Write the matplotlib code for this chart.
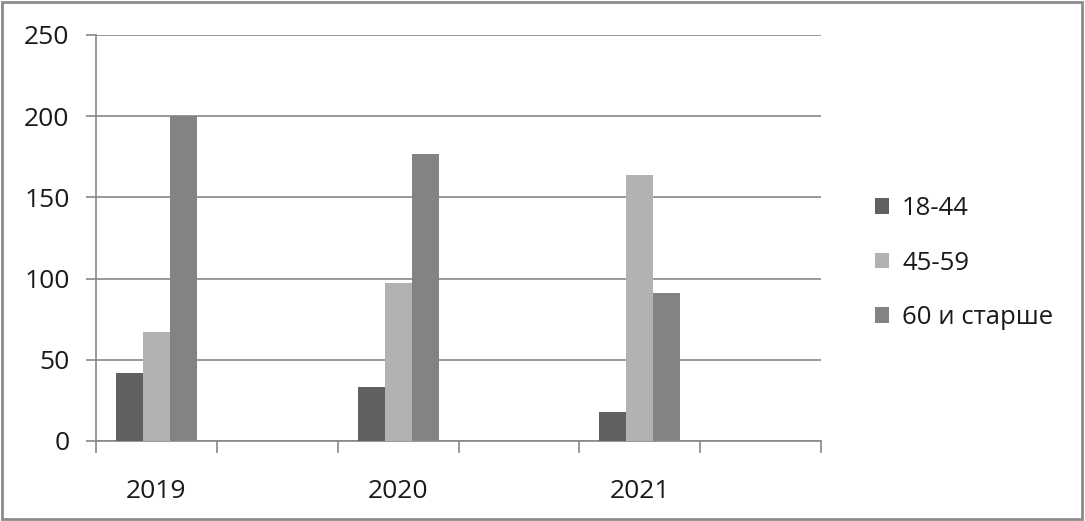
import numpy as np
import matplotlib
matplotlib.use("Agg")
import matplotlib.pyplot as plt
from matplotlib.patches import Rectangle

# data
categories = ["2019", "", "2020", "", "2021", ""]
ages_18_44 = [42, 0, 33, 0, 18, 0]
ages_45_59 = [67, 0, 97, 0, 164, 0]
ages_60_up = [200, 0, 177, 0, 91, 0]
series_names = ["18-44", "45-59", "60 и старше"]
colors = ["#606060", "#b2b2b2", "#838383"]

plt.rcParams['font.family'] = ['Open Sans', 'DejaVu Sans']

fig = plt.figure(figsize=(10.85, 5.21), dpi=100)
ax = fig.add_axes([96 / 1085, 80 / 521, (821 - 96) / 1085, (441 - 35) / 521])

x = np.arange(len(categories))
w = 0.223
for i, (vals, name) in enumerate(zip([ages_18_44, ages_45_59, ages_60_up], series_names)):
    ax.bar(x + (i - 1) * w, vals, width=w, color=colors[i], label=name, zorder=3)

ax.set_xlim(-0.5, len(categories) - 0.5)
ax.set_ylim(0, 250)
ax.set_yticks(range(0, 251, 50))
ax.yaxis.grid(True, color="#878787", linewidth=1.2, zorder=0)

ax.set_xticks(x)
ax.set_xticklabels(categories)
ax.set_xticks(np.arange(-0.5, len(categories)), minor=True)
ax.tick_params(axis="x", which="major", length=0, pad=27, labelsize=19, colors="#1a1a1a")
ax.tick_params(axis="x", which="minor", length=8.5, width=1.2, color="#878787")
ax.tick_params(axis="y", length=7, width=1.2, color="#878787", pad=12, labelsize=19,
               labelcolor="#1a1a1a")

for s in ["top", "right"]:
    ax.spines[s].set_visible(False)
for s in ["left", "bottom"]:
    ax.spines[s].set_color("#878787")
    ax.spines[s].set_linewidth(1.2)

leg = fig.legend(loc="center left", bbox_to_anchor=(852 / 1085, 258 / 521), frameon=False,
                 fontsize=18.5, handlelength=0.55, handleheight=0.55, labelspacing=1.15,
                 handletextpad=0.5)
for t in leg.get_texts():
    t.set_color("#1a1a1a")

fig.patches.append(Rectangle((0.002, 0.003), 0.995, 0.993, transform=fig.transFigure,
                             fill=False, edgecolor="#8c8c8c", linewidth=2))

fig.savefig("out.png", dpi=100)
